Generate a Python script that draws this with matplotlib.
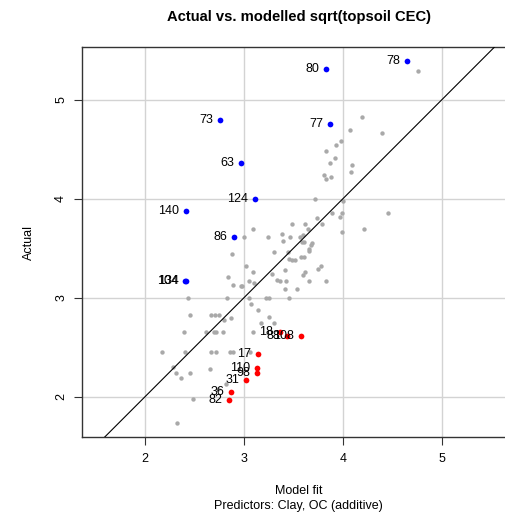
import matplotlib
matplotlib.use("Agg")
import matplotlib.pyplot as plt

plt.rcParams['font.family'] = ['Liberation Sans', 'DejaVu Sans']

# fitted vs observed values, unflagged observations
gray_fit = [4.76, 4.19, 4.07, 4.40, 3.98, 3.93, 3.83, 3.92, 3.87, 4.09, 4.08, 3.81, 3.88, 3.83,
            3.72, 4.00, 4.46, 3.89, 3.99, 3.97, 3.74, 3.99, 4.21, 3.49, 3.62, 3.79, 3.09, 3.65,
            3.00, 3.24, 3.38, 3.47, 3.60, 3.57, 3.39, 3.59, 3.61, 3.69, 3.68, 3.66, 3.66, 3.30,
            3.45, 3.46, 3.49, 3.52, 3.58, 3.61, 3.02, 3.09, 3.78, 3.75, 3.42, 3.62, 3.60, 3.28,
            3.33, 3.36, 3.43, 3.05, 3.10, 3.66, 3.83, 2.98, 3.41, 3.54, 3.05, 3.22, 3.25, 3.46,
            3.07, 3.14, 3.25, 3.17, 3.30, 3.09, 2.84, 2.89, 2.97, 2.43, 2.83, 2.45, 2.67, 2.71,
            2.75, 2.87, 2.80, 2.70, 2.39, 2.62, 2.72, 2.79, 2.17, 2.40, 2.67, 2.72, 2.86, 2.89,
            3.06, 2.28, 2.31, 2.36, 2.45, 2.66, 2.82, 2.74, 2.49, 2.32, 2.88]
gray_actual = [5.29, 4.83, 4.69, 4.66, 4.58, 4.54, 4.48, 4.41, 4.36, 4.34, 4.27, 4.24, 4.22, 4.20,
               4.00, 3.98, 3.86, 3.86, 3.86, 3.82, 3.81, 3.66, 3.69, 3.74, 3.74, 3.74, 3.69, 3.69,
               3.61, 3.61, 3.64, 3.61, 3.63, 3.61, 3.57, 3.56, 3.56, 3.55, 3.53, 3.49, 3.47, 3.46,
               3.46, 3.39, 3.38, 3.38, 3.41, 3.41, 3.32, 3.26, 3.32, 3.29, 3.28, 3.26, 3.23, 3.24,
               3.18, 3.17, 3.17, 3.17, 3.15, 3.17, 3.17, 3.12, 3.09, 3.09, 3.00, 3.00, 3.00, 3.00,
               2.94, 2.88, 2.81, 2.74, 2.74, 2.65, 3.21, 3.13, 3.12, 3.00, 3.00, 2.83, 2.83, 2.83,
               2.83, 2.80, 2.77, 2.65, 2.65, 2.65, 2.65, 2.65, 2.45, 2.45, 2.45, 2.45, 2.45, 2.45,
               2.45, 2.30, 2.24, 2.19, 2.24, 2.28, 2.13, 2.08, 1.98, 1.73, 3.44]

# under-predicted observations (actual well above fit)
high_ids = ["80", "78", "73", "77", "63", "124", "140", "86", "104", "134"]
high_fit = [3.83, 4.65, 2.76, 3.87, 2.97, 3.11, 2.41, 2.90, 2.40, 2.41]
high_actual = [5.31, 5.39, 4.80, 4.76, 4.36, 4.00, 3.88, 3.61, 3.17, 3.17]

# over-predicted observations (actual well below fit)
low_ids = ["18", "88", "108", "17", "110", "98", "31", "36", "82"]
low_fit = [3.36, 3.44, 3.58, 3.14, 3.13, 3.13, 3.02, 2.87, 2.85]
low_actual = [2.65, 2.61, 2.61, 2.43, 2.29, 2.24, 2.17, 2.05, 1.97]

W, H = 506, 515
fig = plt.figure(figsize=(W / 100, H / 100), dpi=100)
left, right, top, bottom = 81.7, 516.0, 47.3, 437.3
ax = fig.add_axes([left / W, 1 - bottom / H, (right - left) / W, (bottom - top) / H])

ax.set_xlim(1.36, 5.75)
ax.set_ylim(1.59, 5.53)
ticks = [2, 3, 4, 5]
ax.set_xticks(ticks)
ax.set_yticks(ticks)
ax.grid(True, color="#d3d3d3", linewidth=1.0)
ax.set_axisbelow(True)

ax.scatter(gray_fit, gray_actual, s=10, color="#a9a9a9", linewidths=0, zorder=3)
ax.scatter(high_fit, high_actual, s=17, color="blue", linewidths=0, zorder=4)
ax.scatter(low_fit, low_actual, s=17, color="red", linewidths=0, zorder=4)
ax.axline((2, 2), slope=1, color="black", linewidth=0.8, zorder=5)

for ids, xs, ys in [(high_ids, high_fit, high_actual), (low_ids, low_fit, low_actual)]:
    for lab, x, y in zip(ids, xs, ys):
        ax.annotate(lab, (x, y), xytext=(-5, 0), textcoords="offset points",
                    ha="right", va="center", fontsize=9, color="black", zorder=6)

for sp in ax.spines.values():
    sp.set_color("#333333")
    sp.set_linewidth(1.0)
ax.spines["right"].set_visible(False)
ax.tick_params(axis="both", length=5.5, width=0.8, color="#333333", labelsize=9)
ax.tick_params(axis="x", pad=6)
ax.tick_params(axis="y", pad=5, labelrotation=90)
for t in ax.get_yticklabels():
    t.set_va("center")

cx = (left + right) / 2
fig.text(cx / W, 1 - 17.3 / H, "Actual vs. modelled sqrt(topsoil CEC)",
         ha="center", va="center", fontsize=10.6, fontweight="bold")
fig.text(cx / W, 1 - 490.7 / H, "Model fit", ha="center", va="center", fontsize=9)
fig.text(cx / W, 1 - 506.0 / H, "Predictors: Clay, OC (additive)",
         ha="center", va="center", fontsize=9)
fig.text(29.3 / W, 1 - 242.3 / H, "Actual", ha="center", va="center",
         rotation=90, fontsize=9)

fig.savefig("out.png", dpi=100)
